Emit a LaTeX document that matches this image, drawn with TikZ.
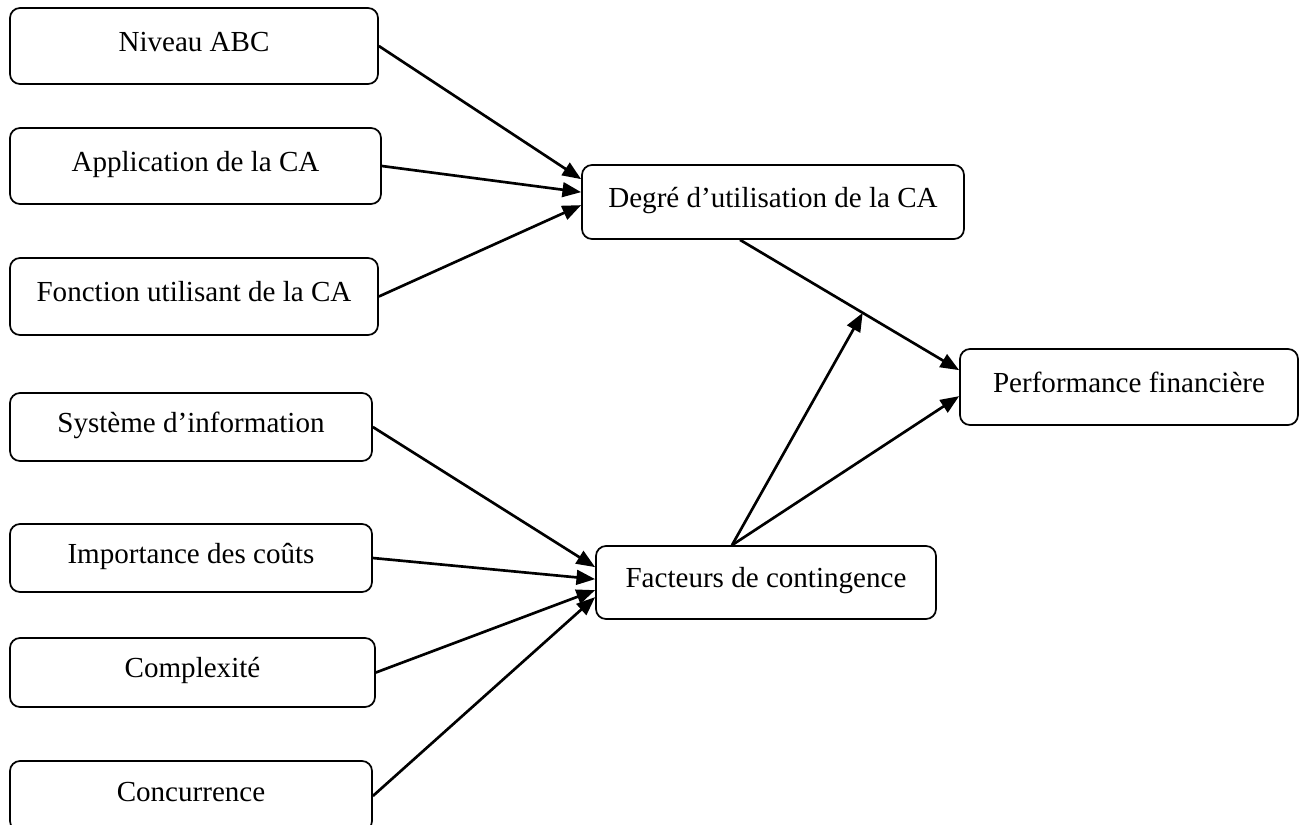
\documentclass[tikz,border=0pt]{standalone}
\usepackage{fontspec}
\setmainfont{Liberation Serif}
\usetikzlibrary{arrows.meta,calc}

\begin{document}
\begin{tikzpicture}[x=0.75pt,y=-0.75pt,
  box/.style={draw,line width=1.3pt,rounded corners=7.5pt,inner sep=0pt,
    font=\fontsize{21.8pt}{26pt}\selectfont,
    text height=14.4pt,text depth=6.5pt},
  sz/.style 2 args={minimum width=#1*0.75pt,minimum height=#2*0.75pt},
  link/.style={line width=2pt,-{Triangle[length=14pt,width=11pt]}}]

\useasboundingbox (0,0) rectangle (1304,825);

% explanatory variables: use of cost accounting
\node[box,sz={368}{76}] (niv) at (194,46)    {Niveau ABC};
\node[box,sz={371}{76}] (app) at (195.5,166) {Application de la CA};
\node[box,sz={368}{77}] (fon) at (194,296.5) {Fonction utilisant de la CA};

% contingency variables
\node[box,sz={362}{68}] (sys) at (191,427)   {Système d’information};
\node[box,sz={362}{68}] (imp) at (191,558)   {Importance des coûts};
\node[box,sz={365}{69}] (cpx) at (192.5,672.5) {Complexité};
\node[box,sz={362}{70}] (con) at (191,796)   {Concurrence};

% aggregated constructs and outcome
\node[box,sz={382}{74}] (deg)  at (773,202)   {Degré d’utilisation de la CA};
\node[box,sz={340}{73}] (fac)  at (766,582.5) {Facteurs de contingence};
\node[box,sz={338}{76}] (perf) at (1129,387)  {Performance financière};

% entry points on the receiving boxes
\coordinate (d1) at ($(deg.north west)+(0,15)$);
\coordinate (d2) at ($(deg.north west)+(0,28)$);
\coordinate (d3) at ($(deg.north west)+(0,41)$);
\coordinate (f1) at ($(fac.north west)+(0,22)$);
\coordinate (f2) at ($(fac.north west)+(0,34)$);
\coordinate (f3) at ($(fac.north west)+(0,45)$);
\coordinate (f4) at ($(fac.north west)+(0,52)$);
\coordinate (p1) at ($(perf.north west)+(0,22)$);
\coordinate (p2) at ($(perf.north west)+(0,48)$);
\coordinate (dout) at ($(deg.south)+(-33,0)$);
\coordinate (fout) at ($(fac.north)+(-34,0)$);
\coordinate (mod) at ($(dout)!0.56!(p1)$);

\draw[link] (niv.east) -- (d1);
\draw[link] (app.east) -- (d2);
\draw[link] (fon.east) -- (d3);

\draw[link] (sys.east) -- (f1);
\draw[link] (imp.east) -- (f2);
\draw[link] (cpx.east) -- (f3);
\draw[link] (con.east) -- (f4);

\draw[link] (dout) -- (p1);
\draw[link] (fout) -- (p2);
\draw[link] (fout) -- (mod);

\end{tikzpicture}
\end{document}
